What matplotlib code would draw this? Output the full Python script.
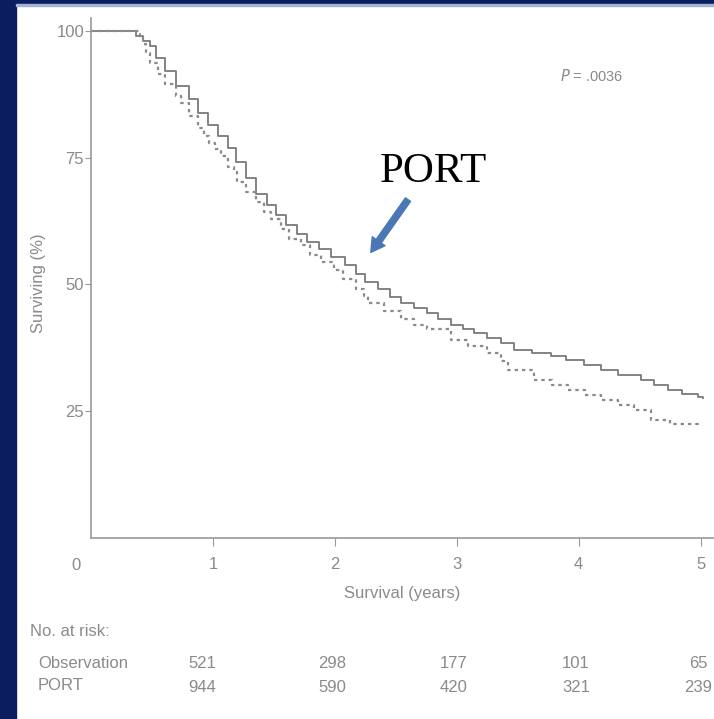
import matplotlib.pyplot as plt
from matplotlib.patches import Rectangle

# survival curves (years, % surviving)
obs_t = [0, 0.37, 0.43, 0.48, 0.53, 0.61, 0.70, 0.80, 0.88, 0.96, 1.04, 1.12, 1.19,
         1.27, 1.35, 1.44, 1.52, 1.60, 1.69, 1.77, 1.87, 1.97, 2.08, 2.17, 2.25, 2.35,
         2.45, 2.54, 2.65, 2.76, 2.85, 2.95, 3.05, 3.14, 3.25, 3.36, 3.47, 3.62, 3.77,
         3.90, 4.04, 4.18, 4.32, 4.51, 4.62, 4.73, 4.85, 4.98, 5.02]
obs_s = [100, 99.0, 98.0, 97.0, 94.6, 92.1, 89.1, 86.5, 83.7, 81.5, 79.2, 76.8, 74.2,
         71.0, 67.9, 65.7, 63.7, 61.7, 59.9, 58.3, 56.9, 55.4, 53.8, 52.0, 50.4, 49.0,
         47.6, 46.4, 45.4, 44.4, 43.1, 41.9, 41.2, 40.5, 39.5, 38.5, 37.1, 36.5, 35.9,
         35.0, 34.1, 33.1, 32.1, 31.2, 30.2, 29.2, 28.4, 27.8, 27.6]

port_t = [0, 0.40, 0.43, 0.45, 0.48, 0.55, 0.61, 0.70, 0.74, 0.80, 0.88, 0.93, 0.97,
          1.02, 1.07, 1.12, 1.17, 1.20, 1.27, 1.35, 1.42, 1.48, 1.56, 1.62, 1.72, 1.80,
          1.89, 1.99, 2.07, 2.17, 2.24, 2.27, 2.40, 2.54, 2.65, 2.76, 2.95, 3.09, 3.25,
          3.36, 3.42, 3.63, 3.78, 3.91, 4.05, 4.18, 4.32, 4.45, 4.59, 4.75, 4.98]
port_s = [100, 99.0, 97.4, 95.6, 93.7, 91.5, 89.5, 87.1, 85.7, 83.1, 80.8, 79.2, 77.8,
          76.6, 75.2, 73.2, 72.2, 70.2, 68.3, 66.3, 64.3, 62.9, 60.9, 58.9, 57.7, 55.8,
          54.4, 52.8, 51.0, 49.0, 47.8, 46.4, 44.8, 43.1, 42.0, 41.1, 39.1, 37.9, 36.5,
          34.9, 33.1, 31.2, 30.2, 29.2, 28.2, 27.2, 26.2, 25.2, 23.2, 22.4, 22.0]

yticks = [25, 50, 75, 100]
xticks = [1, 2, 3, 4, 5]
risk_obs = [521, 298, 177, 101, 65]
risk_port = [944, 590, 420, 321, 239]

grey = '#8a8a8a'
fs = 12
plt.rcParams['font.family'] = ['Liberation Sans Narrow', 'Liberation Sans', 'DejaVu Sans']

fig = plt.figure(figsize=(7.14, 7.19), dpi=100)
fig.patch.set_facecolor('white')

# navy slide border
fig.patches.append(Rectangle((0, 0), 16 / 714, 1, transform=fig.transFigure,
                             color='#0b1d5e', zorder=0))
fig.patches.append(Rectangle((0, 1 - 4 / 719), 1, 4 / 719, transform=fig.transFigure,
                             color='#0b1d5e', zorder=0))
fig.patches.append(Rectangle((16 / 714, 1 - 5.5 / 719), 1, 1.5 / 719,
                             transform=fig.transFigure, color='#9fb4d6', zorder=0))

ax = fig.add_axes([91 / 714, 1 - 538 / 719, (714 - 91) / 714, (538 - 18) / 719])
ax.step(obs_t, obs_s, where='post', color='#7a7a7a', linewidth=1.3)
ax.step(port_t, port_s, where='post', color='#8a8a8a', linewidth=1.6,
        linestyle=(0, (1.5, 1.8)))

ax.set_xlim(0, 5.11)
ax.set_ylim(0, 102.5)
for s in ['top', 'right']:
    ax.spines[s].set_visible(False)
for s in ['left', 'bottom']:
    ax.spines[s].set_color('#999999')
    ax.spines[s].set_linewidth(1.2)

ax.set_yticks(yticks)
ax.set_yticklabels([str(v) for v in yticks])
ax.set_xticks(xticks)
ax.set_xticklabels([str(v) for v in xticks])
ax.tick_params(axis='y', colors='#999999', labelcolor=grey, labelsize=fs,
               length=4, direction='out', pad=1)
ax.tick_params(axis='x', colors='#999999', labelcolor=grey, labelsize=fs,
               length=6, direction='out', pad=8)
ax.text(-0.12, -0.052, '0', transform=ax.get_xaxis_transform(), ha='center',
        va='center', color=grey, fontsize=fs)

ax.set_xlabel('Survival (years)', color=grey, fontsize=fs, labelpad=10)
fig.text(38 / 714, 1 - 283 / 719, 'Surviving (%)', color=grey, fontsize=fs,
         rotation=90, ha='center', va='center')

ax.text(4.11, 91, '$P$ = .0036', color=grey, fontsize=10.5, ha='center', va='center')

ax.text(2.81, 72.2, 'PORT', ha='center', va='center', fontsize=31,
        family='Liberation Serif', color='black')
ax.annotate('', xy=(2.295, 56.3), xytext=(2.60, 66.7),
            arrowprops=dict(arrowstyle='simple,head_width=0.8,head_length=0.7,tail_width=0.32',
                            mutation_scale=14, color='#4a78b5', shrinkA=0, shrinkB=0))

# number at risk table
fig.text(30 / 714, 1 - 632 / 719, 'No. at risk:', color=grey, fontsize=fs,
         ha='left', va='center')
fig.text(38 / 714, 1 - 663 / 719, 'Observation', color=grey, fontsize=fs,
         ha='left', va='center')
fig.text(38 / 714, 1 - 686 / 719, 'PORT', color=grey, fontsize=fs,
         ha='left', va='center')
for i, t in enumerate(xticks):
    xf = (90 + 122 * t - (10 if t == 1 else 2)) / 714
    fig.text(xf, 1 - 664 / 719, str(risk_obs[i]), color=grey, fontsize=fs,
             ha='center', va='center')
    fig.text(xf, 1 - 688 / 719, str(risk_port[i]), color=grey, fontsize=fs,
             ha='center', va='center')

fig.savefig('out.png', dpi=100, facecolor=fig.get_facecolor())
